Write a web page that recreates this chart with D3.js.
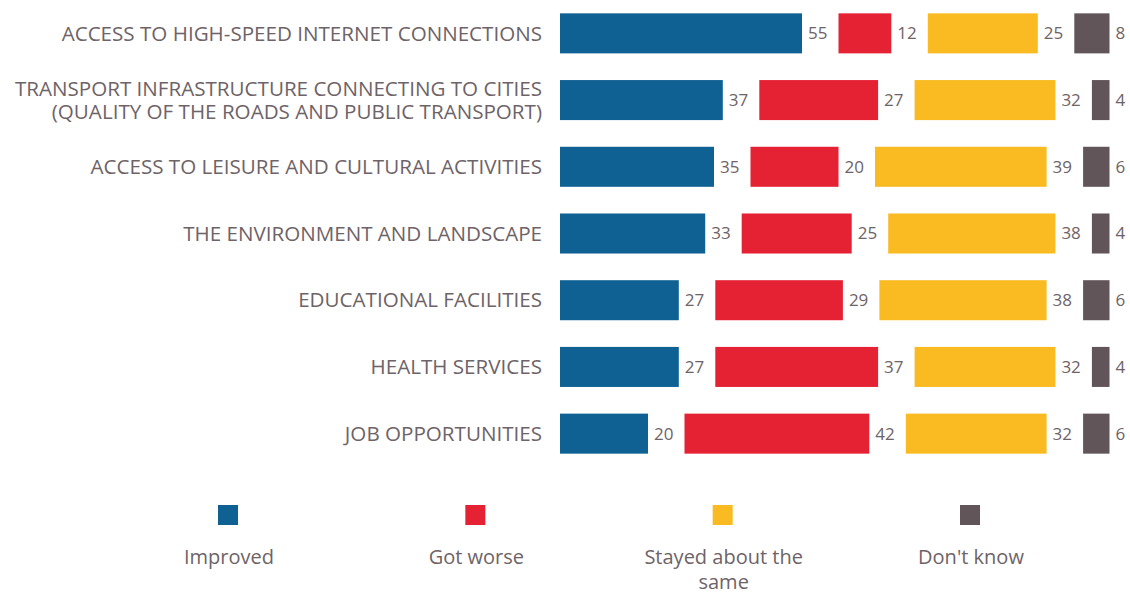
<!DOCTYPE html>
<html><head><meta charset="utf-8">
<script src="https://cdn.jsdelivr.net/npm/d3@7"></script>
<style>body{margin:0;background:#fff;} text{font-family:"Open Sans","Noto Sans",sans-serif;}</style>
</head><body><svg id="c" width="1130" height="594"></svg>
<script>
const categories = [
  ["ACCESS TO HIGH-SPEED INTERNET CONNECTIONS"],
  ["TRANSPORT INFRASTRUCTURE CONNECTING TO CITIES","(QUALITY OF THE ROADS AND PUBLIC TRANSPORT)"],
  ["ACCESS TO LEISURE AND CULTURAL ACTIVITIES"],
  ["THE ENVIRONMENT AND LANDSCAPE"],
  ["EDUCATIONAL FACILITIES"],
  ["HEALTH SERVICES"],
  ["JOB OPPORTUNITIES"]
];
const seriesNames = ["Improved","Got worse","Stayed about the same","Don't know"];
const improved = [55,37,35,33,27,27,20];
const gotWorse = [12,27,20,25,29,37,42];
const stayed = [25,32,39,38,38,32,32];
const dontKnow = [8,4,6,4,6,4,6];
const colors = ["#0e6192","#e52134","#f9bb21","#625559"];
const textColor = "#6e6367";

const series = [improved, gotWorse, stayed, dontKnow];
const svg = d3.select("#c");
const x0 = 560, gap = 36.5;
const x = d3.scaleLinear().domain([0,100]).range([0,440]);
const y = d3.scaleBand().domain(d3.range(categories.length)).range([0,467]).paddingInner(0.4).paddingOuter(0.2);

categories.forEach((lines, i) => {
  const cy = y(i) + y.bandwidth()/2;
  let cum = 0;
  series.forEach((s, k) => {
    const v = s[i];
    const xs = x0 + x(cum) + k*gap;
    svg.append("rect").attr("x", xs).attr("y", y(i)).attr("width", x(v)).attr("height", y.bandwidth()).attr("fill", colors[k]);
    svg.append("text").attr("x", xs + x(v) + 6).attr("y", cy).attr("dy","0.35em")
      .attr("font-size", 17).attr("fill", textColor).text(v);
    cum += v;
  });
  const lh = 22.5;
  lines.forEach((l, j) => {
    svg.append("text").attr("text-anchor","end").attr("font-size",20.6).attr("fill",textColor)
      .attr("x", 542).attr("y", cy + (j - (lines.length-1)/2)*lh).attr("dy","0.35em").text(l);
  });
});

const legX = d3.scalePoint().domain(seriesNames).range([228, 970]);
seriesNames.forEach((n, k) => {
  const cx = legX(n);
  svg.append("rect").attr("x", cx-10).attr("y", 505).attr("width", 20).attr("height", 20).attr("fill", colors[k]);
  const lines = n === "Stayed about the same" ? ["Stayed about the","same"] : [n];
  lines.forEach((l, j) => svg.append("text").attr("text-anchor","middle").attr("font-size",20).attr("fill",textColor)
    .attr("x", cx+1).attr("y", 564 + j*25).text(l));
});
</script></body></html>
